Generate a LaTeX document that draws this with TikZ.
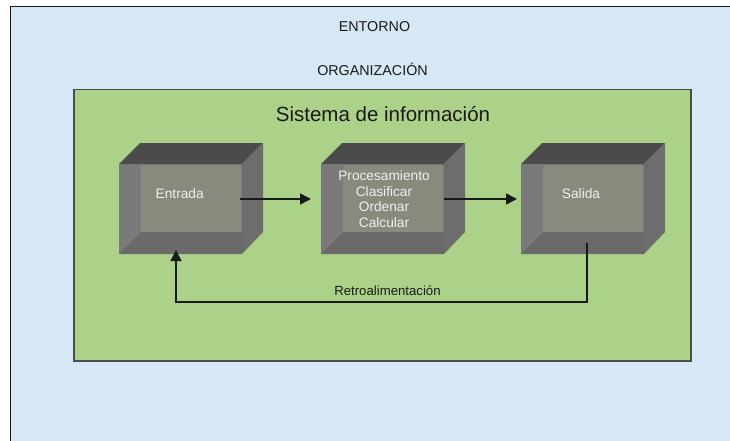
\documentclass[tikz,border=0pt]{standalone}
\usepackage{fontspec}
\setmainfont{Liberation Sans}
\usetikzlibrary{arrows.meta}
\definecolor{envblue}{HTML}{D6E7F5}
\definecolor{orggreen}{HTML}{ACD28A}
\definecolor{topface}{HTML}{4B4B4B}
\definecolor{leftstrip}{HTML}{7A7A7A}
\definecolor{botstrip}{HTML}{6A6A6A}
\definecolor{rightface}{HTML}{6D6D6D}
\definecolor{innerface}{HTML}{868B7D}
\definecolor{ink}{HTML}{1A1A1A}
\tikzset{
  titletext/.style={font=\fontsize{14.3}{16}\selectfont, text=ink, anchor=base, inner sep=0pt},
  boxtext/.style={font=\fontsize{13.7}{15.6}\selectfont, text=white!94!black, anchor=base, inner sep=0pt},
  frontface/.style={draw=none, fill=leftstrip, minimum width=123pt, minimum height=90pt, inner sep=0pt, outer sep=0pt},
  conn/.style={draw=ink, line width=1.5pt, -{Triangle[length=11pt,width=11pt]}},
}
% #1 = left x of front face, #2 = name prefix
\newcommand{\bevelbox}[2]{%
  \node[frontface] (#2f) at (#1+61.5,209) {};
  \fill[topface] (#1,164) -- (#1+21,143) -- (#1+144,143) -- (#1+123,164) -- cycle;
  \fill[rightface] (#1+123,164) -- (#1+144,143) -- (#1+144,232) -- (#1+123,254) -- cycle;
  \fill[botstrip] (#1,254) -- (#1+22,232) -- (#1+123,232) -- (#1+123,254) -- cycle;
  \node[draw=none, fill=innerface, minimum width=100pt, minimum height=67pt, inner sep=0pt, outer sep=0pt] (#2i) at (#1+72,198.5) {};
}
\begin{document}
\begin{tikzpicture}[x=1pt,y=-1pt]
\useasboundingbox (0,0) rectangle (730,441);
\begin{scope}
\clip (0,0) rectangle (730,441);
\node[draw=ink, line width=1pt, fill=envblue, minimum width=730pt, minimum height=445pt, anchor=north west, inner sep=0pt] (env) at (10,6) {};
\end{scope}
\node[titletext] (entorno) at (374.5,32) {ENTORNO};
\node[titletext] (org) at (372.5,76) {ORGANIZACIÓN};
\node[draw=black!70, line width=1.5pt, fill=orggreen, minimum width=617pt, minimum height=271pt, anchor=north west, inner sep=0pt] (orgbox) at (73,89) {};
\node[font=\fontsize{20.5}{22}\selectfont, text=ink, anchor=base, inner sep=0pt] (sis) at (383,121.5) {Sistema de información};

\bevelbox{119}{e}
\bevelbox{321}{p}
\bevelbox{521}{s}

\node[boxtext] (entrada) at (179.7,198.3) {Entrada};
\node[boxtext, align=center, anchor=north] (proc) at (384,170.5) {Procesamiento\\Clasificar\\Ordenar\\Calcular};
\node[boxtext] (salida) at (581,198.3) {Salida};

\coordinate (a1) at (240,199);
\draw[conn, shorten >=10pt] (a1) -- (a1 -| pf.west);
\draw[conn, shorten >=4pt] (a1 -| pf.east) -- (a1 -| sf.west);

\coordinate (fbs) at (587,243);
\coordinate (fbl) at (176,302);
\coordinate (fbe) at (176,250);
\draw[conn] (fbs) |- (fbl) -- (fbe);
\node[font=\fontsize{13.2}{15}\selectfont, text=ink, anchor=base, inner sep=0pt] (retro) at (387.5,295) {Retroalimentación};
\end{tikzpicture}
\end{document}
